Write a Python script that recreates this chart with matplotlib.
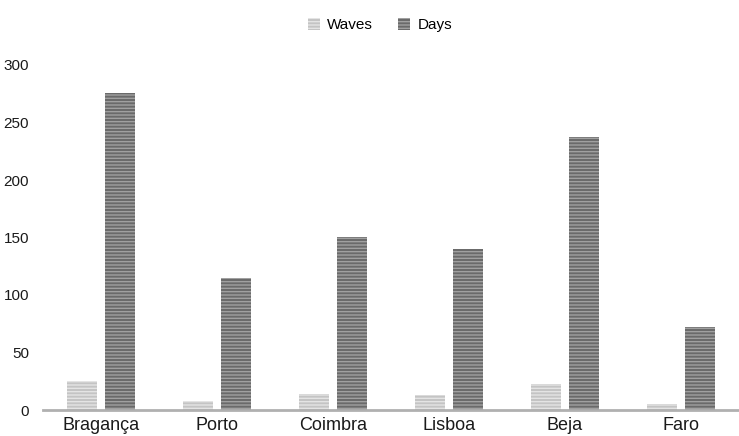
import numpy as np
from matplotlib import pyplot as plt

plt.rcParams['font.family'] = ['Liberation Sans', 'DejaVu Sans']
plt.rcParams['hatch.linewidth'] = 1.0

# Ondas de calor y dias por ciudad
ciudades = ['Bragança', 'Porto', 'Coimbra', 'Lisboa', 'Beja', 'Faro']
waves = [25, 8, 14, 13, 23, 5]
days = [276, 115, 150, 140, 237, 72]

fig = plt.figure(figsize=(7.39, 4.36), dpi=100)
ax = fig.add_axes([43/739, 26/436, 696/739, 345/436])

x = np.arange(len(ciudades))
ancho = 0.26
desp = 0.165

ax.bar(x - desp, waves, ancho, color='#c4c4c4', edgecolor='#e4e4e4',
       hatch='-----', linewidth=0, label='Waves')
ax.bar(x + desp, days, ancho, color='#6a6a6a', edgecolor='#a0a0a0',
       hatch='-----', linewidth=0, label='Days')

ax.set_xlim(-0.5, len(ciudades) - 0.5)
ax.set_ylim(0, 300)
ax.set_yticks(np.arange(0, 301, 50))
ax.set_xticks(x)
ax.set_xticklabels(ciudades)
ax.tick_params(axis='both', length=0, colors='#1a1a1a')
ax.tick_params(axis='y', pad=10, labelsize=11)
ax.tick_params(axis='x', pad=5, labelsize=13)

for s in ['top', 'right', 'left']:
    ax.spines[s].set_visible(False)
ax.spines['bottom'].set_color('#b0b0b0')
ax.spines['bottom'].set_linewidth(2)

fig.legend(loc='upper center', bbox_to_anchor=(0.514, 0.99), ncol=2, frameon=False,
           fontsize=11, handlelength=0.8, handleheight=0.8, columnspacing=1.6,
           handletextpad=0.5)

fig.savefig('out.png', dpi=100)
